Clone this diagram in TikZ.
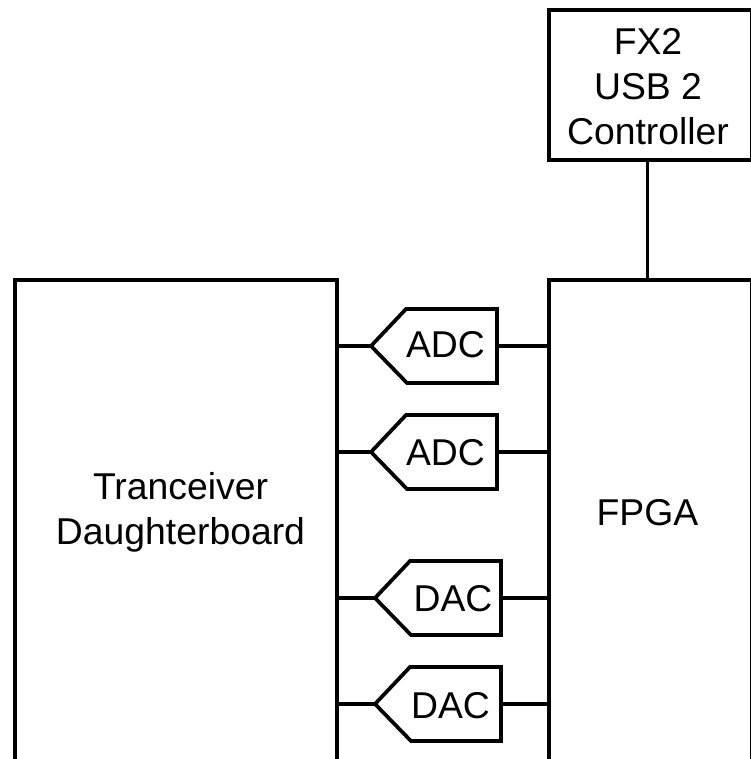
\documentclass[tikz,border=0pt]{standalone}
\usepackage{fontspec}
\setmainfont{Liberation Sans}
\tikzset{
  box/.style={draw=black,line width=2.8pt,fill=white,outer sep=0pt,inner sep=0pt},
  conv/.style={draw=black,line width=2.8pt,fill=white},
  lbl/.style={font=\fontsize{28}{33.7}\selectfont,align=center,inner sep=0pt},
  wire/.style={line width=2.5pt,black}
}
\newcommand{\pentagon}[3]{% name, left tip x, centre y (pixels)
  \coordinate (#1 in) at (#2,#3);
  \coordinate (#1 out) at (#2+126,#3);
  \draw[conv] (#2,#3) -- (#2+36,#3+37) -- (#2+126,#3+37) -- (#2+126,#3-37) -- (#2+35,#3-37) -- cycle;
}
\begin{document}
\begin{tikzpicture}[x=0.75pt,y=-0.75pt]
  \useasboundingbox (0,0) rectangle (750,759);
  \node[box,minimum width=151.9pt,minimum height=112.5pt,anchor=north west] (usb) at (549,10) {};
  \node[box,minimum width=151.9pt,minimum height=360.4pt,anchor=north west] (fpga) at (549,280) {};
  \node[box,minimum width=241.5pt,minimum height=360.4pt,anchor=north west] (dboard) at (15,280) {};
  \node[lbl] (usbtxt) at (648,87) {FX2\\USB 2\\Controller};
  \node[lbl] (fpgatxt) at (647.5,513) {FPGA};
  \node[lbl] (dboardtxt) at (180.5,512) {Tranceiver\\Daughterboard};
  \draw[wire] ([xshift=-2pt]usb.south) -- ([xshift=-2pt]fpga.north);
  \pentagon{adca}{371}{346}
  \pentagon{adcb}{371}{452}
  \pentagon{daca}{375}{598}
  \pentagon{dacb}{375}{704}
  \node[lbl] (adcatxt) at (445.5,345) {ADC};
  \node[lbl] (adcbtxt) at (445.5,453) {ADC};
  \node[lbl] (dacatxt) at (453,598.5) {DAC};
  \node[lbl] (dacbtxt) at (450.5,706) {DAC};
  \draw[wire] (adca in) -- (adca in -| dboard.east);
  \draw[wire] (adcb in) -- (adcb in -| dboard.east);
  \draw[wire] (daca in) -- (daca in -| dboard.east);
  \draw[wire] (dacb in) -- (dacb in -| dboard.east);
  \draw[wire] (adca out) -- (adca out -| fpga.west);
  \draw[wire] (adcb out) -- (adcb out -| fpga.west);
  \draw[wire] (daca out) -- (daca out -| fpga.west);
  \draw[wire] (dacb out) -- (dacb out -| fpga.west);
\end{tikzpicture}
\end{document}
